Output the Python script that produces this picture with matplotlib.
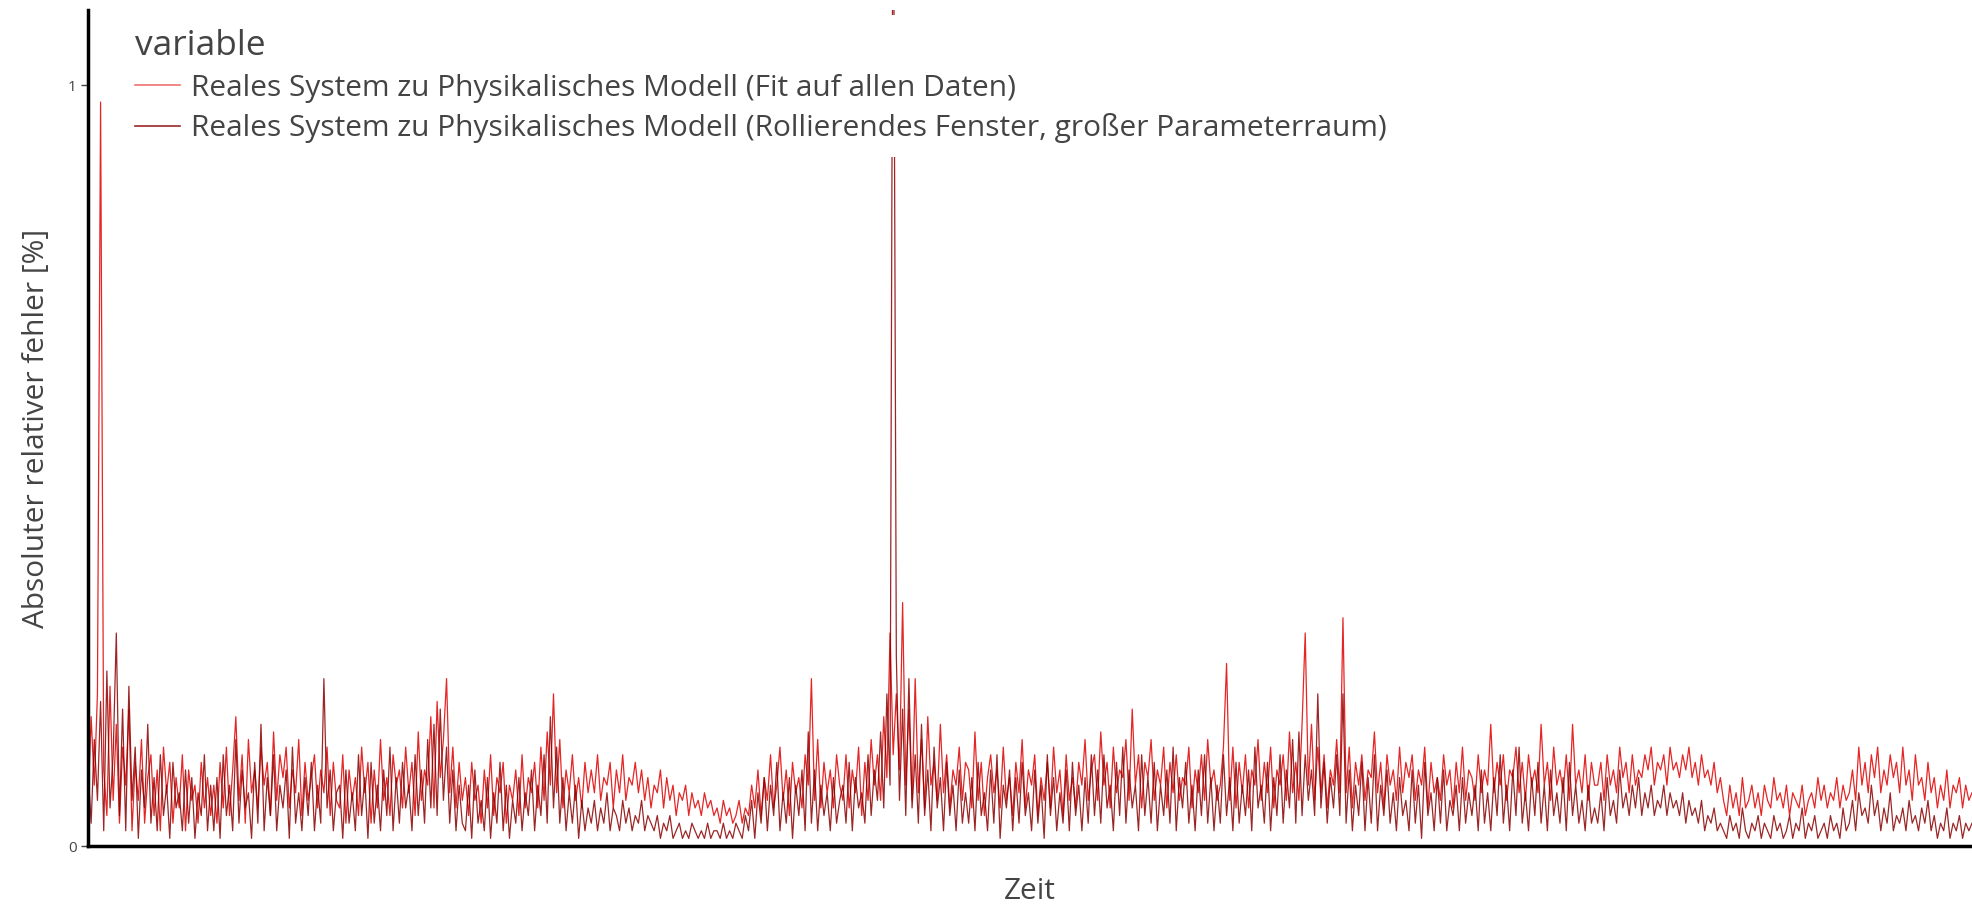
import numpy as np
import matplotlib
matplotlib.use('Agg')
import matplotlib.pyplot as plt

plt.rcParams['font.family'] = ['Open Sans', 'DejaVu Sans']

LABEL_FIT = 'Reales System zu Physikalisches Modell (Fit auf allen Daten)'
LABEL_ROLL = 'Reales System zu Physikalisches Modell (Rollierendes Fenster, großer Parameterraum)'

fit_err = [
    0.05, 0.17, 0.08, 0.20, 0.978, 0.10, 0.04, 0.21, 0.06, 0.16, 0.03, 0.13, 0.08, 0.18, 0.02, 0.11, 0.06, 0.14, 0.03, 0.09,
    0.12, 0.04, 0.10, 0.02, 0.13, 0.07, 0.11, 0.03, 0.09, 0.05, 0.12, 0.02, 0.10, 0.06, 0.08, 0.03, 0.11, 0.05, 0.09, 0.04,
    0.08, 0.03, 0.11, 0.05, 0.13, 0.04, 0.10, 0.17, 0.06, 0.12, 0.03, 0.14, 0.07, 0.10, 0.05, 0.13, 0.08, 0.11, 0.04, 0.15,
    0.06, 0.12, 0.09, 0.13, 0.05, 0.10, 0.07, 0.14, 0.04, 0.11, 0.06, 0.09, 0.12, 0.05, 0.10, 0.07, 0.13, 0.04, 0.11, 0.06,
    0.05, 0.12, 0.03, 0.10, 0.06, 0.09, 0.04, 0.13, 0.07, 0.11, 0.03, 0.10, 0.05, 0.14, 0.06, 0.09, 0.04, 0.12, 0.08, 0.10,
    0.05, 0.13, 0.07, 0.11, 0.04, 0.15, 0.06, 0.10, 0.08, 0.17, 0.05, 0.19, 0.09, 0.14, 0.22, 0.07, 0.13, 0.05, 0.11, 0.06,
    0.09, 0.04, 0.11, 0.06, 0.08, 0.03, 0.10, 0.05, 0.12, 0.04, 0.09, 0.07, 0.11, 0.03, 0.08, 0.06, 0.10, 0.04, 0.12, 0.05,
    0.09, 0.07, 0.11, 0.05, 0.13, 0.06, 0.15, 0.08, 0.20, 0.07, 0.14, 0.05, 0.10, 0.07, 0.12, 0.06, 0.09, 0.05, 0.11, 0.07,
    0.10, 0.07, 0.12, 0.06, 0.09, 0.08, 0.11, 0.05, 0.10, 0.07, 0.12, 0.06, 0.09, 0.08, 0.11, 0.07, 0.10, 0.06, 0.09, 0.05,
    0.08, 0.07, 0.10, 0.05, 0.09, 0.06, 0.08, 0.04, 0.07, 0.06, 0.08, 0.04, 0.07, 0.05, 0.06, 0.04, 0.07, 0.05, 0.06, 0.04,
    0.05, 0.03, 0.06, 0.04, 0.05, 0.03, 0.04, 0.06, 0.03, 0.05, 0.04, 0.08, 0.05, 0.10, 0.04, 0.09, 0.06, 0.12, 0.05, 0.08,
    0.13, 0.06, 0.10, 0.04, 0.11, 0.07, 0.09, 0.05, 0.12, 0.08, 0.22, 0.06, 0.14, 0.05, 0.11, 0.07, 0.10, 0.05, 0.12, 0.08,
    0.06, 0.12, 0.05, 0.10, 0.07, 0.13, 0.04, 0.11, 0.06, 0.14, 0.08, 0.12, 0.06, 0.17, 0.09, 0.28, 0.12, 0.20, 0.10, 0.32,
    0.08, 0.18, 0.06, 0.22, 0.07, 0.14, 0.05, 0.17, 0.08, 0.11, 0.06, 0.16, 0.07, 0.12, 0.05, 0.10, 0.08, 0.13, 0.06, 0.11,
    0.10, 0.05, 0.15, 0.06, 0.11, 0.04, 0.09, 0.12, 0.07, 0.10, 0.05, 0.13, 0.06, 0.09, 0.04, 0.11, 0.07, 0.14, 0.05, 0.10,
    0.08, 0.12, 0.04, 0.09, 0.06, 0.11, 0.05, 0.13, 0.07, 0.10, 0.04, 0.12, 0.06, 0.09, 0.05, 0.11, 0.08, 0.14, 0.06, 0.10,
    0.12, 0.06, 0.15, 0.08, 0.11, 0.05, 0.13, 0.07, 0.10, 0.09, 0.14, 0.06, 0.18, 0.08, 0.12, 0.05, 0.11, 0.09, 0.14, 0.06,
    0.10, 0.08, 0.13, 0.05, 0.11, 0.07, 0.12, 0.06, 0.09, 0.08, 0.13, 0.05, 0.10, 0.07, 0.12, 0.06, 0.14, 0.08, 0.10, 0.06,
    0.08, 0.13, 0.24, 0.06, 0.13, 0.05, 0.11, 0.07, 0.12, 0.05, 0.10, 0.08, 0.14, 0.06, 0.11, 0.07, 0.13, 0.05, 0.10, 0.08,
    0.12, 0.06, 0.15, 0.07, 0.11, 0.06, 0.16, 0.28, 0.08, 0.16, 0.06, 0.13, 0.07, 0.12, 0.05, 0.10, 0.08, 0.14, 0.07, 0.30,
    0.07, 0.13, 0.05, 0.11, 0.08, 0.12, 0.06, 0.10, 0.09, 0.15, 0.07, 0.11, 0.05, 0.12, 0.08, 0.10, 0.06, 0.13, 0.07, 0.11,
    0.09, 0.12, 0.06, 0.10, 0.08, 0.13, 0.05, 0.11, 0.07, 0.09, 0.06, 0.12, 0.08, 0.10, 0.05, 0.11, 0.07, 0.13, 0.06, 0.10,
    0.09, 0.06, 0.12, 0.07, 0.10, 0.08, 0.16, 0.07, 0.11, 0.08, 0.12, 0.06, 0.10, 0.09, 0.13, 0.07, 0.11, 0.06, 0.12, 0.08,
    0.10, 0.07, 0.16, 0.08, 0.11, 0.06, 0.13, 0.08, 0.10, 0.07, 0.12, 0.06, 0.16, 0.08, 0.10, 0.07, 0.12, 0.06, 0.11, 0.08,
    0.08, 0.11, 0.06, 0.12, 0.08, 0.10, 0.07, 0.13, 0.09, 0.11, 0.07, 0.12, 0.08, 0.10, 0.09, 0.12, 0.10, 0.13, 0.08, 0.11,
    0.10, 0.12, 0.08, 0.13, 0.10, 0.11, 0.09, 0.12, 0.10, 0.13, 0.09, 0.11, 0.08, 0.12, 0.09, 0.10, 0.08, 0.11, 0.07, 0.09,
    0.06, 0.04, 0.08, 0.05, 0.07, 0.04, 0.09, 0.05, 0.06, 0.08, 0.05, 0.07, 0.04, 0.08, 0.06, 0.05, 0.09, 0.06, 0.07, 0.05,
    0.08, 0.04, 0.07, 0.06, 0.05, 0.08, 0.04, 0.06, 0.07, 0.05, 0.09, 0.06, 0.08, 0.05, 0.07, 0.06, 0.09, 0.05, 0.08, 0.06,
    0.07, 0.10, 0.06, 0.13, 0.08, 0.11, 0.07, 0.12, 0.09, 0.13, 0.07, 0.10, 0.08, 0.12, 0.09, 0.11, 0.07, 0.13, 0.08, 0.10,
    0.06, 0.12, 0.08, 0.09, 0.06, 0.11, 0.07, 0.09, 0.05, 0.08, 0.06, 0.10, 0.05, 0.08, 0.07, 0.09, 0.05, 0.08, 0.06, 0.07,
]

roll_err = [
    0.10, 0.03, 0.14, 0.06, 0.19, 0.02, 0.23, 0.05, 0.12, 0.28, 0.04, 0.18, 0.02, 0.21, 0.06, 0.13, 0.01, 0.10, 0.05, 0.16,
    0.03, 0.09, 0.02, 0.12, 0.04, 0.08, 0.01, 0.11, 0.05, 0.07, 0.02, 0.10, 0.03, 0.09, 0.01, 0.07, 0.04, 0.12, 0.02, 0.08,
    0.02, 0.09, 0.01, 0.12, 0.04, 0.08, 0.02, 0.14, 0.03, 0.10, 0.05, 0.07, 0.01, 0.11, 0.03, 0.16, 0.02, 0.09, 0.04, 0.12,
    0.02, 0.08, 0.05, 0.10, 0.01, 0.13, 0.03, 0.07, 0.02, 0.09, 0.04, 0.11, 0.02, 0.08, 0.03, 0.22, 0.05, 0.10, 0.02, 0.07,
    0.08, 0.01, 0.10, 0.03, 0.07, 0.02, 0.12, 0.04, 0.09, 0.01, 0.11, 0.03, 0.08, 0.02, 0.10, 0.04, 0.13, 0.02, 0.09, 0.03,
    0.11, 0.05, 0.08, 0.02, 0.12, 0.04, 0.10, 0.03, 0.14, 0.05, 0.16, 0.04, 0.18, 0.06, 0.13, 0.03, 0.10, 0.02, 0.08, 0.03,
    0.02, 0.08, 0.01, 0.10, 0.03, 0.06, 0.02, 0.09, 0.01, 0.07, 0.03, 0.11, 0.02, 0.08, 0.01, 0.06, 0.03, 0.09, 0.02, 0.07,
    0.04, 0.10, 0.02, 0.08, 0.04, 0.12, 0.03, 0.17, 0.05, 0.13, 0.03, 0.09, 0.02, 0.07, 0.03, 0.08, 0.01, 0.06, 0.02, 0.05,
    0.03, 0.06, 0.02, 0.05, 0.03, 0.07, 0.02, 0.05, 0.04, 0.02, 0.06, 0.03, 0.05, 0.02, 0.04, 0.03, 0.06, 0.02, 0.04, 0.03,
    0.02, 0.04, 0.01, 0.03, 0.02, 0.04, 0.01, 0.02, 0.03, 0.01, 0.02, 0.01, 0.03, 0.02, 0.01, 0.02, 0.01, 0.03, 0.01, 0.02,
    0.02, 0.01, 0.03, 0.01, 0.02, 0.01, 0.03, 0.02, 0.01, 0.04, 0.02, 0.06, 0.01, 0.07, 0.03, 0.09, 0.02, 0.08, 0.04, 0.11,
    0.02, 0.07, 0.03, 0.09, 0.01, 0.08, 0.04, 0.10, 0.02, 0.15, 0.03, 0.10, 0.02, 0.08, 0.04, 0.07, 0.02, 0.09, 0.03, 0.06,
    0.08, 0.03, 0.11, 0.02, 0.09, 0.05, 0.07, 0.03, 0.12, 0.04, 0.10, 0.06, 0.15, 0.05, 0.20, 0.08, 1.40, 0.25, 0.06, 0.18,
    0.04, 0.22, 0.05, 0.12, 0.03, 0.16, 0.04, 0.10, 0.02, 0.13, 0.05, 0.09, 0.02, 0.11, 0.04, 0.08, 0.02, 0.10, 0.03, 0.07,
    0.03, 0.09, 0.02, 0.11, 0.04, 0.07, 0.02, 0.10, 0.03, 0.12, 0.01, 0.08, 0.05, 0.10, 0.02, 0.09, 0.03, 0.11, 0.04, 0.07,
    0.02, 0.10, 0.03, 0.08, 0.01, 0.12, 0.04, 0.09, 0.02, 0.07, 0.03, 0.10, 0.02, 0.11, 0.04, 0.08, 0.02, 0.09, 0.03, 0.12,
    0.04, 0.10, 0.03, 0.12, 0.05, 0.08, 0.02, 0.11, 0.04, 0.13, 0.03, 0.10, 0.05, 0.08, 0.02, 0.12, 0.04, 0.09, 0.03, 0.11,
    0.02, 0.08, 0.04, 0.10, 0.03, 0.13, 0.02, 0.09, 0.05, 0.11, 0.03, 0.08, 0.02, 0.10, 0.04, 0.12, 0.03, 0.09, 0.02, 0.08,
    0.03, 0.12, 0.04, 0.09, 0.02, 0.11, 0.03, 0.08, 0.04, 0.10, 0.02, 0.13, 0.05, 0.08, 0.03, 0.11, 0.02, 0.09, 0.04, 0.12,
    0.03, 0.10, 0.05, 0.14, 0.03, 0.15, 0.04, 0.12, 0.06, 0.10, 0.04, 0.20, 0.05, 0.11, 0.03, 0.09, 0.05, 0.12, 0.04, 0.20,
    0.03, 0.10, 0.02, 0.08, 0.04, 0.11, 0.02, 0.09, 0.03, 0.12, 0.02, 0.08, 0.04, 0.10, 0.03, 0.07, 0.02, 0.09, 0.04, 0.06,
    0.02, 0.10, 0.03, 0.08, 0.01, 0.11, 0.04, 0.07, 0.02, 0.09, 0.03, 0.10, 0.02, 0.06, 0.04, 0.08, 0.02, 0.09, 0.03, 0.07,
    0.04, 0.08, 0.02, 0.10, 0.03, 0.07, 0.02, 0.09, 0.04, 0.12, 0.03, 0.08, 0.02, 0.10, 0.04, 0.13, 0.03, 0.07, 0.02, 0.09,
    0.04, 0.11, 0.03, 0.08, 0.02, 0.10, 0.04, 0.07, 0.03, 0.09, 0.02, 0.11, 0.04, 0.08, 0.03, 0.06, 0.02, 0.08, 0.03, 0.05,
    0.03, 0.07, 0.02, 0.09, 0.04, 0.06, 0.03, 0.10, 0.05, 0.07, 0.04, 0.08, 0.05, 0.09, 0.04, 0.07, 0.05, 0.08, 0.04, 0.06,
    0.05, 0.08, 0.04, 0.07, 0.05, 0.06, 0.04, 0.07, 0.03, 0.06, 0.04, 0.05, 0.03, 0.06, 0.02, 0.04, 0.03, 0.05, 0.02, 0.03,
    0.02, 0.01, 0.04, 0.02, 0.03, 0.01, 0.05, 0.02, 0.01, 0.03, 0.02, 0.04, 0.01, 0.03, 0.02, 0.01, 0.04, 0.02, 0.03, 0.01,
    0.02, 0.04, 0.01, 0.03, 0.02, 0.05, 0.01, 0.03, 0.02, 0.04, 0.01, 0.02, 0.03, 0.01, 0.04, 0.02, 0.03, 0.01, 0.05, 0.02,
    0.03, 0.06, 0.02, 0.07, 0.04, 0.05, 0.03, 0.08, 0.04, 0.06, 0.02, 0.05, 0.03, 0.07, 0.02, 0.04, 0.03, 0.05, 0.02, 0.06,
    0.03, 0.04, 0.02, 0.05, 0.03, 0.06, 0.02, 0.04, 0.01, 0.03, 0.02, 0.05, 0.01, 0.03, 0.02, 0.04, 0.01, 0.03, 0.02, 0.03,
]

zeit_fit = np.arange(len(fit_err))
zeit_roll = np.arange(len(roll_err))

fig = plt.figure(figsize=(19.72, 9.05), dpi=100)
ax = fig.add_axes([88 / 1972, 59 / 905, 1 - 88 / 1972, 836 / 905])

ax.plot(zeit_fit, fit_err, color='#e00000', alpha=0.85, lw=0.9, label=LABEL_FIT)
ax.plot(zeit_roll, roll_err, color='#8b0000', alpha=0.85, lw=0.9, label=LABEL_ROLL)

ax.set_xlim(0, max(len(fit_err), len(roll_err)) - 1)
ax.set_ylim(0, 1.099)
ax.set_xticks([])
ax.set_yticks([0, 1])
ax.tick_params(axis='y', length=5, width=1, color='#444444', labelcolor='#444444', labelsize=11, pad=3)

for s in ['top', 'right']:
    ax.spines[s].set_visible(False)
for s in ['left', 'bottom']:
    ax.spines[s].set_linewidth(2.5)
    ax.spines[s].set_color('black')

ax.set_xlabel('Zeit', fontsize=21.5, color='#444444', labelpad=22)
ax.set_ylabel('Absoluter relativer fehler [%]', fontsize=21.5, color='#444444', labelpad=12)

leg = ax.legend(title='variable', loc='upper left', bbox_to_anchor=(122 / 1972, 1 - 15.5 / 905),
                bbox_transform=fig.transFigure, fontsize=21.5, title_fontsize=25.5,
                frameon=True, facecolor='white', edgecolor='none', framealpha=1,
                handlelength=1.5, handletextpad=0.35, labelspacing=0.36, alignment='left',
                borderpad=0.45, borderaxespad=0)
for t in leg.get_texts():
    t.set_color('#444444')
leg.get_title().set_color('#444444')
for h in leg.legend_handles:
    h.set_linewidth(1.2)
leg.legend_handles[0].set_alpha(0.55)

fig.savefig('out.png', dpi=100)
